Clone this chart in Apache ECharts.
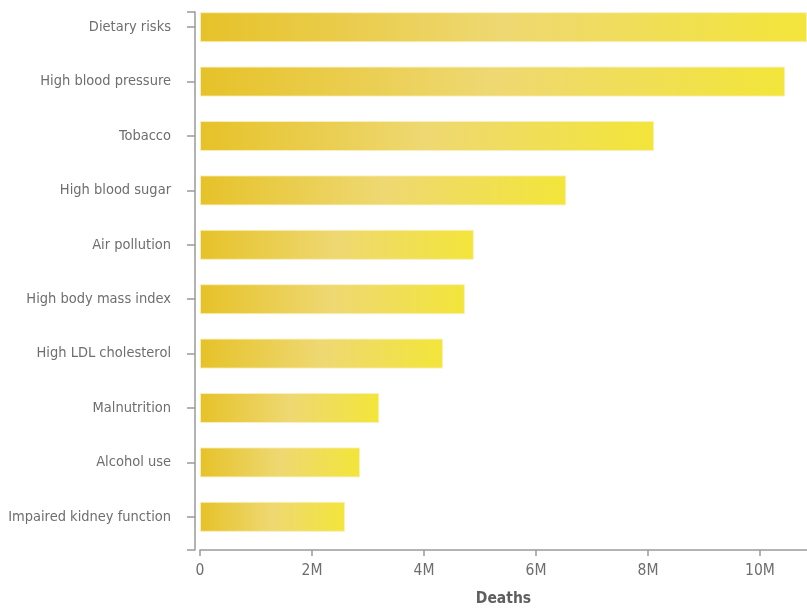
<!DOCTYPE html>
<html>
<head>
<meta charset="utf-8">
<script src="https://cdn.jsdelivr.net/npm/echarts@6/dist/echarts.min.js"></script>
<style>
html,body{margin:0;padding:0;background:#fff;}
#chart{width:807px;height:608px;}
</style>
</head>
<body>
<div id="chart"></div>
<script>
const categories = ["Dietary risks","High blood pressure","Tobacco","High blood sugar","Air pollution","High body mass index","High LDL cholesterol","Malnutrition","Alcohol use","Impaired kidney function"];
const deaths = [10840000,10450000,8110000,6540000,4890000,4730000,4340000,3200000,2860000,2590000];
const xTicks = [0,2000000,4000000,6000000,8000000,10000000];
const xMax = 10840000;

const FONT = '"DejaVu Sans Condensed","Liberation Sans Narrow",sans-serif';
const grey = '#6e6e6e';
const axisGrey = '#9a9a9a';

const chart = echarts.init(document.getElementById('chart'), null, {renderer:'canvas'});
const grad = new echarts.graphic.LinearGradient(0,0,1,0,[
  {offset:0,color:'#e6c229'},
  {offset:0.5,color:'#eed872'},
  {offset:1,color:'#f3e53a'}
]);
const G = {containLabel:false,outerBoundsMode:'none'};
chart.setOption({
  animation:false,
  grid:[
    Object.assign({left:200,right:0,top:0,height:544},G),   // bars
    Object.assign({left:200,right:0,top:12,bottom:58},G),   // x axis
    Object.assign({left:195,right:0,top:12,bottom:58},G),   // y axis line
    Object.assign({left:195,right:0,top:0,height:544},G)    // category labels
  ],
  xAxis:[
    {gridIndex:0,type:'value',min:0,max:xMax,show:false},
    {gridIndex:1,type:'value',min:0,max:xMax,interval:2000000,
      axisLine:{show:true,lineStyle:{color:axisGrey,width:1.5}},
      axisTick:{show:true,length:6,lineStyle:{color:axisGrey,width:1.5}},
      splitLine:{show:false},
      axisLabel:{color:grey,fontFamily:FONT,fontSize:15.5,margin:13,showMaxLabel:false,
        formatter:v=> v===0?'0':(v/1000000)+'M'},
      name:'Deaths',nameLocation:'middle',nameGap:41,
      nameTextStyle:{color:'#5e5e5e',fontFamily:FONT,fontSize:15.5,fontWeight:'bold'}
    },
    {gridIndex:2,type:'value',min:0,max:1,show:false},
    {gridIndex:3,type:'value',min:0,max:1,show:false}
  ],
  yAxis:[
    {gridIndex:0,type:'category',data:categories,inverse:true,show:false},
    {gridIndex:1,type:'value',min:0,max:1,show:false},
    {gridIndex:2,type:'value',min:0,max:1,interval:1,
      axisLine:{show:true,lineStyle:{color:axisGrey,width:1.5}},
      axisTick:{show:true,length:8,lineStyle:{color:axisGrey,width:1.5}},
      axisLabel:{show:false},splitLine:{show:false}
    },
    {gridIndex:3,type:'category',data:categories,inverse:true,
      axisLine:{show:false},
      axisTick:{show:true,alignWithLabel:true,length:8,lineStyle:{color:axisGrey,width:1.5}},
      axisLabel:{color:grey,fontFamily:FONT,fontSize:14.5,margin:24},
      splitLine:{show:false}
    }
  ],
  series:[{
    type:'bar',xAxisIndex:0,yAxisIndex:0,data:deaths,barWidth:30,
    itemStyle:{color:grad,borderColor:'rgba(250,240,190,0.9)',borderWidth:1}
  }]
});
</script>
</body>
</html>
